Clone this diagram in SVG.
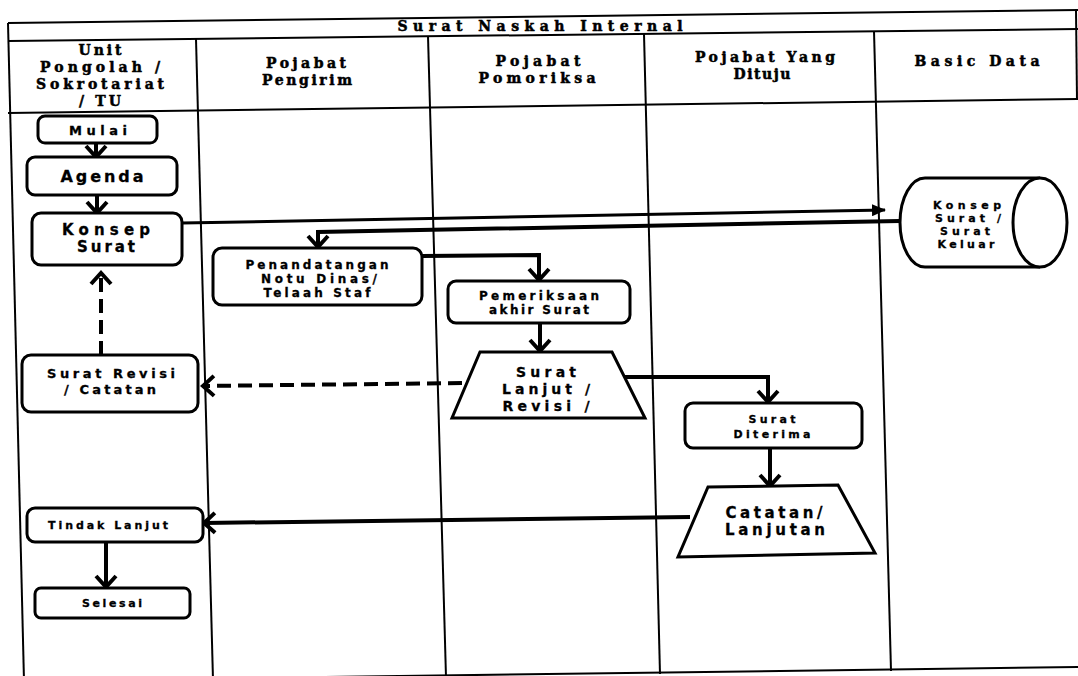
<svg xmlns="http://www.w3.org/2000/svg" width="1078" height="676" viewBox="0 0 1078 676">
  <style>
    .frame { stroke: #000; stroke-width: 2; fill: none; }
    .hdr { font-family: "DejaVu Serif", "Liberation Serif", serif; font-weight: bold; font-size: 14px; text-anchor: middle; fill: #000; stroke: #000; stroke-width: 0.5; }
    .lbl { font-family: "DejaVu Sans", "Liberation Sans", sans-serif; font-weight: bold; text-anchor: middle; fill: #000; stroke: #000; stroke-width: 0.3; }
    .box { fill: #fff; stroke: #000; stroke-width: 3; }
    .flow { fill: none; stroke: #000; stroke-width: 4; }
    .thin { stroke-width: 3; }
    .dash { stroke-dasharray: 14 7; }
  </style>
  <defs>
    <marker id="chev" viewBox="0 0 16 24" refX="13" refY="12" markerWidth="16" markerHeight="24" markerUnits="userSpaceOnUse" orient="auto">
      <path d="M2,2 L13,12 L2,22" fill="none" stroke="#000" stroke-width="4"/>
    </marker>
    <marker id="tri" viewBox="0 0 14 12" refX="13" refY="6" markerWidth="14" markerHeight="12" markerUnits="userSpaceOnUse" orient="auto">
      <path d="M0,0 L14,6 L0,12 z" fill="#000"/>
    </marker>
  </defs>

  <rect width="1078" height="676" fill="#fff"/>

  <!-- swimlane frame -->
  <g id="frame">
    <line class="frame" x1="8" y1="23" x2="1078" y2="10"/>
    <line class="frame" x1="8" y1="41" x2="1078" y2="29"/>
    <line class="frame" x1="8" y1="113" x2="1078" y2="99"/>
    <line class="frame" x1="24" y1="681" x2="1078" y2="667"/>
    <line class="frame" x1="8" y1="23" x2="24" y2="681"/>
    <line class="frame" x1="1076" y1="10" x2="1077" y2="100"/>
    <line class="frame" x1="196" y1="39" x2="213" y2="680"/>
    <line class="frame" x1="428" y1="36" x2="446" y2="677"/>
    <line class="frame" x1="644" y1="34" x2="660" y2="674"/>
    <line class="frame" x1="874" y1="31" x2="891" y2="671"/>
  </g>

  <g id="headers">
    <text class="hdr" x="540" y="31" textLength="285" lengthAdjust="spacing">Surat Naskah Internal</text>
    <text class="hdr" x="100" y="55" textLength="43" lengthAdjust="spacing">Unit</text>
    <text class="hdr" x="100" y="72" textLength="120" lengthAdjust="spacing">Pongolah /</text>
    <text class="hdr" x="100" y="89" textLength="128" lengthAdjust="spacing">Sokrotariat</text>
    <text class="hdr" x="100" y="106" textLength="42" lengthAdjust="spacing">/ TU</text>
    <text class="hdr" x="306" y="68" textLength="80" lengthAdjust="spacing">Pojabat</text>
    <text class="hdr" x="307" y="85" textLength="90" lengthAdjust="spacing">Pengirim</text>
    <text class="hdr" x="538" y="66" textLength="85" lengthAdjust="spacing">Pojabat</text>
    <text class="hdr" x="537" y="83" textLength="117" lengthAdjust="spacing">Pomoriksa</text>
    <text class="hdr" x="765" y="62" textLength="140" lengthAdjust="spacing">Pojabat Yang</text>
    <text class="hdr" x="762" y="79" textLength="57" lengthAdjust="spacing">Dituju</text>
    <text class="hdr" x="977" y="66" textLength="125" lengthAdjust="spacing">Basic Data</text>
  </g>

  <g id="connectors">
    <path class="flow" d="M96,143 V157" marker-end="url(#chev)"/>
    <path class="flow" d="M97,195 V213" marker-end="url(#chev)"/>
    <path class="flow thin" d="M182,223 L885,210" marker-end="url(#tri)"/>
    <path class="flow" d="M900,221 L318,232 L318,247" marker-end="url(#chev)"/>
    <path class="flow" d="M422,256 L539,255 L539,280" marker-end="url(#chev)"/>
    <path class="flow" d="M540,323 V351" marker-end="url(#chev)"/>
    <path class="flow" d="M624,377 L768,377 L768,402" marker-end="url(#chev)"/>
    <path class="flow" d="M770,448 V486" marker-end="url(#chev)"/>
    <path class="flow" d="M690,517 L204,523" marker-end="url(#chev)"/>
    <path class="flow" d="M106,542 V587" marker-end="url(#chev)"/>
    <path class="flow dash" d="M462,383 L203,386" marker-end="url(#chev)"/>
    <path class="flow dash" d="M101,355 V273" marker-end="url(#chev)"/>
  </g>

  <g id="mulai">
    <rect class="box" x="38" y="116" width="119" height="27" rx="7"/>
    <text class="lbl" x="98" y="135" font-size="13" textLength="58" lengthAdjust="spacing">Mulai</text>
  </g>
  <g id="agenda">
    <rect class="box" x="27" y="157" width="150" height="38" rx="8"/>
    <text class="lbl" x="102" y="182" font-size="16" textLength="83" lengthAdjust="spacing">Agenda</text>
  </g>
  <g id="konsep-surat">
    <rect class="box" x="32" y="213" width="150" height="52" rx="9"/>
    <text class="lbl" x="106" y="235" font-size="15" textLength="88" lengthAdjust="spacing">Konsep</text>
    <text class="lbl" x="106" y="252" font-size="15" textLength="58" lengthAdjust="spacing">Surat</text>
  </g>
  <g id="penandatangan">
    <rect class="box" x="213" y="248" width="209" height="57" rx="9"/>
    <text class="lbl" x="317" y="269" font-size="12" textLength="143" lengthAdjust="spacing">Penandatangan</text>
    <text class="lbl" x="319" y="283" font-size="12" textLength="116" lengthAdjust="spacing">Notu Dinas/</text>
    <text class="lbl" x="317" y="297" font-size="12" textLength="107" lengthAdjust="spacing">Telaah Staf</text>
  </g>
  <g id="pemeriksaan">
    <rect class="box" x="448" y="281" width="182" height="42" rx="8"/>
    <text class="lbl" x="539" y="300" font-size="12" textLength="120" lengthAdjust="spacing">Pemeriksaan</text>
    <text class="lbl" x="539" y="314" font-size="12" textLength="100" lengthAdjust="spacing">akhir Surat</text>
  </g>
  <g id="surat-lanjut">
    <polygon class="box" points="480,352 612,352 645,418 452,418"/>
    <text class="lbl" x="546" y="377" font-size="14" textLength="60" lengthAdjust="spacing">Surat</text>
    <text class="lbl" x="546" y="394" font-size="14" textLength="88" lengthAdjust="spacing">Lanjut /</text>
    <text class="lbl" x="546" y="411" font-size="14" textLength="87" lengthAdjust="spacing">Revisi /</text>
  </g>
  <g id="surat-diterima">
    <rect class="box" x="685" y="403" width="177" height="45" rx="8"/>
    <text class="lbl" x="772" y="423" font-size="11" textLength="47" lengthAdjust="spacing">Surat</text>
    <text class="lbl" x="772" y="438" font-size="11" textLength="77" lengthAdjust="spacing">Diterima</text>
  </g>
  <g id="catatan-lanjutan">
    <polygon class="box" points="708,487 838,485 875,553 678,557"/>
    <text class="lbl" x="774" y="518" font-size="15" textLength="97" lengthAdjust="spacing">Catatan/</text>
    <text class="lbl" x="775" y="535" font-size="15" textLength="100" lengthAdjust="spacing">Lanjutan</text>
  </g>
  <g id="surat-revisi">
    <rect class="box" x="22" y="355" width="176" height="57" rx="9"/>
    <text class="lbl" x="111" y="378" font-size="13" textLength="128" lengthAdjust="spacing">Surat Revisi</text>
    <text class="lbl" x="110" y="394" font-size="13" textLength="92" lengthAdjust="spacing">/ Catatan</text>
  </g>
  <g id="tindak-lanjut">
    <rect class="box" x="27" y="508" width="176" height="34" rx="8"/>
    <text class="lbl" x="108" y="529" font-size="11" textLength="120" lengthAdjust="spacing">Tindak Lanjut</text>
  </g>
  <g id="selesai">
    <rect class="box" x="35" y="588" width="155" height="30" rx="6"/>
    <text class="lbl" x="112" y="607" font-size="11" textLength="60" lengthAdjust="spacing">Selesai</text>
  </g>
  <g id="basic-data">
    <path class="box" d="M1040,178 L925,178 A25,44.5 0 0 0 925,267 L1040,267"/>
    <ellipse class="box" cx="1040" cy="222.5" rx="27" ry="44.5"/>
    <text class="lbl" x="967" y="209" font-size="11" textLength="68" lengthAdjust="spacing">Konsep</text>
    <text class="lbl" x="968" y="222" font-size="11" textLength="66" lengthAdjust="spacing">Surat /</text>
    <text class="lbl" x="965" y="235" font-size="11" textLength="50" lengthAdjust="spacing">Surat</text>
    <text class="lbl" x="966" y="248" font-size="11" textLength="57" lengthAdjust="spacing">Keluar</text>
  </g>
</svg>
